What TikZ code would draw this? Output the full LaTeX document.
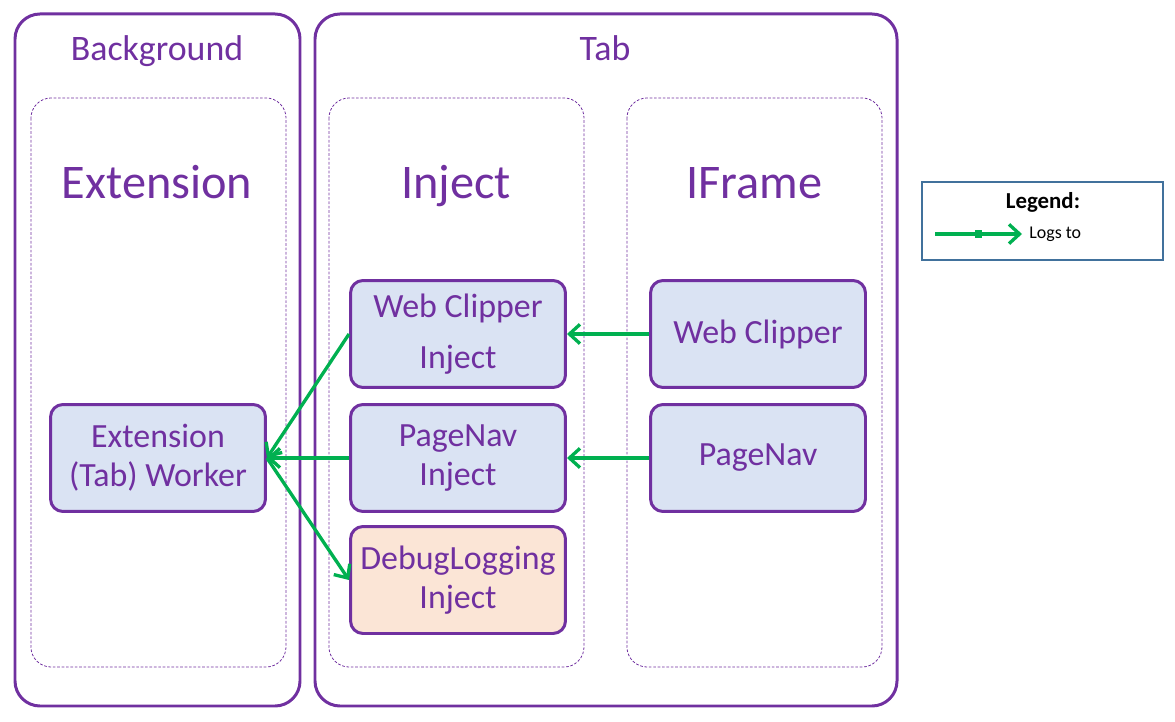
\documentclass[tikz,border=0pt]{standalone}
\usepackage{fontspec}
\setmainfont{Carlito}
\usetikzlibrary{arrows.meta}
\definecolor{vio}{HTML}{7030A0}
\definecolor{grn}{HTML}{00B050}
\definecolor{boxblue}{HTML}{DAE3F3}
\definecolor{boxpeach}{HTML}{FBE5D6}
\definecolor{legline}{HTML}{41719C}
\tikzset{
  outer/.style={draw=vio,line width=1.7pt,rounded corners=0.5cm},
  inner/.style={draw=vio,line width=0.45pt,dash pattern=on 1.5pt off 1pt,rounded corners=0.4cm},
  comp/.style={draw=vio,line width=1.7pt,rounded corners=0.25cm,fill=boxblue,text=vio,
    minimum width=4.3cm,minimum height=2.14cm,inner sep=0pt,align=center,
    font=\fontsize{19.3}{22}\selectfont},
  logs/.style={draw=grn,line width=1.9pt,-{Straight Barb[length=6pt,width=11pt]}},
  head/.style={text=vio,anchor=base,font=\fontsize{20.4}{24}\selectfont},
  title/.style={text=vio,anchor=base,font=\fontsize{27.5}{32}\selectfont}
}
\begin{document}
\begin{tikzpicture}[x=0.02cm,y=-0.02cm]
\useasboundingbox (0,0) rectangle (1175,722);
\draw[outer](15,14) rectangle (300,706);
\draw[outer](315,14) rectangle (897,706);
\draw[inner](31,98) rectangle (286,667);
\draw[inner](329,98) rectangle (584,667);
\draw[inner](627,98) rectangle (882,667);
\node[head] (bg) at (157,61){Background};
\node[head] (tab) at (605,61){Tab};
\node[title] (ext) at (157,199){Extension};
\node[title] (inj) at (456,199){Inject};
\node[title] (ifr) at (754,199){IFrame};
% components
\node[comp] (worker) at (158,458){Extension\\(Tab) Worker};
\node[comp] (wcinj) at (458,334){Web Clipper\\[7pt]Inject};
\node[comp] (pninj) at (458,458){PageNav\\Inject};
\node[comp,fill=boxpeach] (dbginj) at (458,580){DebugLogging\\Inject};
\node[comp] (wcifr) at (758,334){Web Clipper};
\node[comp] (pnifr) at (758,458){PageNav};
% logging
\draw[logs](wcifr.west) -- (wcinj.east);
\draw[logs](pnifr.west) -- (pninj.east);
\draw[logs](wcinj.west) -- (worker.east);
\draw[logs](pninj.west) -- (worker.east);
\draw[logs](worker.east) -- (dbginj.west);
% legend
\draw[draw=legline,line width=0.7pt](922,182) rectangle (1163,260);
\node[font=\fontsize{13}{15}\selectfont\bfseries] (leg) at (1043,202){Legend:};
\coordinate (ls) at (935,234);
\coordinate (le) at (1022,234);
\draw[logs](ls) -- (le) node[midway,fill=grn,inner sep=2pt]{};
\node[anchor=west,font=\fontsize{10.2}{12}\selectfont,inner sep=0pt] (lt) at (1029,234){Logs to};
\end{tikzpicture}
\end{document}
